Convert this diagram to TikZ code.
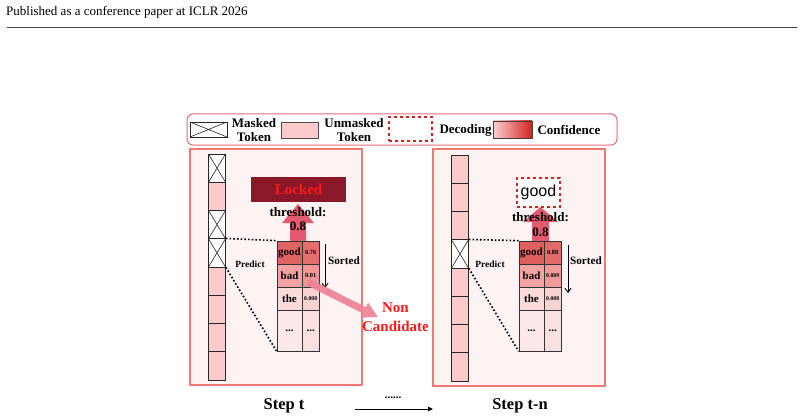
\documentclass[tikz,border=0pt]{standalone}
\usepackage{fontspec}
\setmainfont{Liberation Serif}
\newfontfamily\arialfont{Liberation Sans}
\usetikzlibrary{arrows.meta}

\definecolor{panelfill}{HTML}{FDF3F3}
\definecolor{panelline}{HTML}{F27777}
\definecolor{pinkcell}{HTML}{FCCACA}
\definecolor{lockfill}{HTML}{8A1828}
\definecolor{hotred}{HTML}{FF1A1A}
\definecolor{arrowred}{HTML}{E24A60}
\definecolor{ncarrow}{HTML}{EC8296}
\definecolor{legendline}{HTML}{E66A78}
\definecolor{decred}{HTML}{D42222}

\newcommand{\fsz}[1]{\fontsize{#1}{#1}\selectfont}

\begin{document}
\begin{tikzpicture}[x=1pt,y=-1pt,
  tok/.style={draw=black!85, line width=0.7pt, minimum width=17pt, minimum height=28.25pt, inner sep=0pt, fill=pinkcell},
  masked/.style={tok, fill=white, path picture={\draw[line width=0.6pt] (path picture bounding box.north west) -- (path picture bounding box.south east) (path picture bounding box.south west) -- (path picture bounding box.north east);}},
  wcell/.style={draw=black!80, line width=0.7pt, minimum width=25pt, minimum height=23pt, inner sep=0pt, font=\bfseries\fsz{11}},
  ncell/.style={draw=black!80, line width=0.7pt, minimum width=17.5pt, minimum height=23pt, inner sep=0pt, font=\bfseries\fsz{6.3}},
  tall/.style={minimum height=41pt},
  panel/.style={draw=panelline, line width=1.8pt, fill=panelfill},
  dotline/.style={line width=1.6pt, dash pattern=on 1.6pt off 2.1pt},
  lbl/.style={font=\bfseries\fsz{13}, inner sep=0pt},
  legtxt/.style={font=\bfseries\fontsize{13}{14}\selectfont, align=center, inner sep=0pt},
]
\useasboundingbox (0,0) rectangle (804,420);

% header
\node[anchor=west, inner sep=0pt, font=\fsz{13}] (hdr) at (6,12) {Published as a conference paper at ICLR 2026};
\coordinate (r1) at (7,27); \coordinate (r2) at (797,27);
\draw[line width=0.8pt, black!75] (r1) -- (r2);

% legend
\draw[legendline, line width=1pt, rounded corners=6pt] (187,114) rectangle (617,145);
\node[masked, minimum width=37pt, minimum height=15pt] (lgm) at (208.5,129.5) {};
\node[legtxt] (lgmt) at (254,130) {Masked\\Token};
\node[draw=black!70, line width=0.7pt, fill=pinkcell, minimum width=37pt, minimum height=16pt, inner sep=0pt] (lgu) at (299.5,130) {};
\node[legtxt] (lgut) at (354,130) {Unmasked\\Token};
\node[draw=decred, dashed, line width=1.1pt, minimum width=43pt, minimum height=24pt, inner sep=0pt] (lgd) at (410.5,129) {};
\node[legtxt] (lgdt) at (465.5,130) {Decoding};
\node[draw=black!75, line width=0.8pt, left color=pinkcell!90!white, right color=decred, minimum width=39pt, minimum height=17pt, inner sep=0pt] (lgc) at (512.5,129.5) {};
\node[legtxt] (lgct) at (569,130) {Confidence};

% panels
\draw[panel] (190,149) rectangle (362,385);
\draw[panel] (433,149) rectangle (605,386);

% ================= left panel =================
\node[masked] (L1) at (217,168.1) {};
\node[tok]    (L2) at (217,196.4) {};
\node[masked] (L3) at (217,224.6) {};
\node[masked] (L4) at (217,252.9) {};
\node[tok]    (L5) at (217,281.1) {};
\node[tok]    (L6) at (217,309.4) {};
\node[tok]    (L7) at (217,337.6) {};
\node[tok]    (L8) at (217,365.9) {};

% locked box
\node[fill=lockfill, minimum width=95pt, minimum height=25pt, inner sep=0pt, text=hotred, font=\bfseries\fsz{15}] (lock) at (298.5,189.5) {Locked};

% threshold arrow
\fill[arrowred, opacity=0.9] (290,241) -- (290,223) -- (282,223) -- (298,204) -- (314,223) -- (306,223) -- (306,241) -- cycle;
\node[lbl] (lth) at (298,212) {threshold:};
\node[lbl] (lth2) at (298,226.5) {0.8};

% table
\node[wcell, fill={rgb,255:red,224;green,100;blue,100}] (Lg) at (289.5,252.5) {good};
\node[ncell, fill={rgb,255:red,230;green,110;blue,110}] (Lgn) at (310.75,252.5) {0.76};
\node[wcell, fill={rgb,255:red,242;green,162;blue,162}] (Lb) at (289.5,275.5) {bad};
\node[ncell, fill={rgb,255:red,240;green,150;blue,150}] (Lbn) at (310.75,275.5) {0.01};
\node[wcell, fill={rgb,255:red,250;green,218;blue,218}] (Lt) at (289.5,298.5) {the};
\node[ncell, fill={rgb,255:red,247;green,210;blue,210}, font=\bfseries\fsz{5.8}] (Ltn) at (310.75,298.5) {0.008};
\node[wcell, tall, fill={rgb,255:red,252;green,232;blue,232}] (Ld) at (289.5,330.5) {...};
\node[ncell, tall, fill={rgb,255:red,249;green,224;blue,224}, font=\bfseries\fsz{11}] (Ldn) at (310.75,330.5) {...};

\draw[dotline] (L4.north east) -- (Lg.north west);
\draw[dotline] (L4.south east) -- (Ld.south west);
\node[font=\bfseries\fsz{9.5}, inner sep=0pt] (Lp) at (250,264) {Predict};

% sorted
\coordinate (Ls1) at (325,244); \coordinate (Ls2) at (325,288);
\draw[line width=0.9pt, -{Straight Barb[length=4pt,width=6pt]}] (Ls1) -- (Ls2);
\node[font=\bfseries\fsz{11.2}, inner sep=0pt] (Lsort) at (344,261) {Sorted};

% non-candidate arrow
\fill[ncarrow, opacity=0.92] (306.4,285.1) -- (362.7,313.3) -- (360.5,317.8) -- (377.8,316.9) -- (368.1,302.6) -- (365.9,307.1) -- (309.6,278.9) -- cycle;
\node[text=hotred, font=\bfseries\fontsize{15}{19}\selectfont, align=center, inner sep=0pt] (nc) at (395.5,317.5) {Non\\Candidate};

% ================= right panel =================
\node[tok]    (R1) at (460,169.1) {};
\node[tok]    (R2) at (460,197.4) {};
\node[tok]    (R3) at (460,225.6) {};
\node[masked] (R4) at (460,253.9) {};
\node[tok]    (R5) at (460,282.1) {};
\node[tok]    (R6) at (460,310.4) {};
\node[tok]    (R7) at (460,338.6) {};
\node[tok]    (R8) at (460,366.9) {};

% decoded box
\node[draw=decred, fill=white, dashed, line width=1.1pt, minimum width=43pt, minimum height=29pt, inner sep=0pt, font=\arialfont\fsz{16}] (dec) at (538.5,192.5) {good};

% threshold arrow
\fill[arrowred, opacity=0.9] (532,241) -- (532,222) -- (523,222) -- (540.5,207) -- (558,222) -- (549,222) -- (549,241) -- cycle;
\node[lbl] (rth) at (540.5,217) {threshold:};
\node[lbl] (rth2) at (540.5,232.5) {0.8};

% table
\node[wcell, fill={rgb,255:red,224;green,96;blue,96}] (Rg) at (531.5,252.5) {good};
\node[ncell, fill={rgb,255:red,228;green,106;blue,106}] (Rgn) at (552.75,252.5) {0.88};
\node[wcell, fill={rgb,255:red,242;green,162;blue,162}] (Rb) at (531.5,275.5) {bad};
\node[ncell, fill={rgb,255:red,240;green,154;blue,154}, font=\bfseries\fsz{5.8}] (Rbn) at (552.75,275.5) {0.009};
\node[wcell, fill={rgb,255:red,250;green,218;blue,218}] (Rt) at (531.5,298.5) {the};
\node[ncell, fill={rgb,255:red,247;green,210;blue,210}, font=\bfseries\fsz{5.8}] (Rtn) at (552.75,298.5) {0.008};
\node[wcell, tall, fill={rgb,255:red,252;green,232;blue,232}] (Rd) at (531.5,330.5) {...};
\node[ncell, tall, fill={rgb,255:red,249;green,224;blue,224}, font=\bfseries\fsz{11}] (Rdn) at (552.75,330.5) {...};

\draw[dotline] (R4.north east) -- (Rg.north west);
\draw[dotline] (R4.south east) -- (Rd.south west);
\node[font=\bfseries\fsz{9.5}, inner sep=0pt] (Rp) at (490,264) {Predict};

\coordinate (Rs1) at (568,245); \coordinate (Rs2) at (568,293);
\draw[line width=0.9pt, -{Straight Barb[length=4pt,width=6pt]}] (Rs1) -- (Rs2);
\node[font=\bfseries\fsz{11.2}, inner sep=0pt] (Rsort) at (586,261) {Sorted};

% ================= bottom =================
\node[font=\bfseries\fsz{16.5}, inner sep=0pt] (st) at (284,406) {Step t};
\node[font=\bfseries\fsz{16.5}, inner sep=0pt] (stn) at (520,406) {Step t-n};
\coordinate (ba1) at (355,409); \coordinate (ba2) at (433,409);
\draw[line width=0.8pt, -{Triangle[length=5pt,width=4.5pt]}] (ba1) -- (ba2);
\node[font=\bfseries\fsz{11}, inner sep=0pt] (bdots) at (393,398) {......};
\end{tikzpicture}
\end{document}
